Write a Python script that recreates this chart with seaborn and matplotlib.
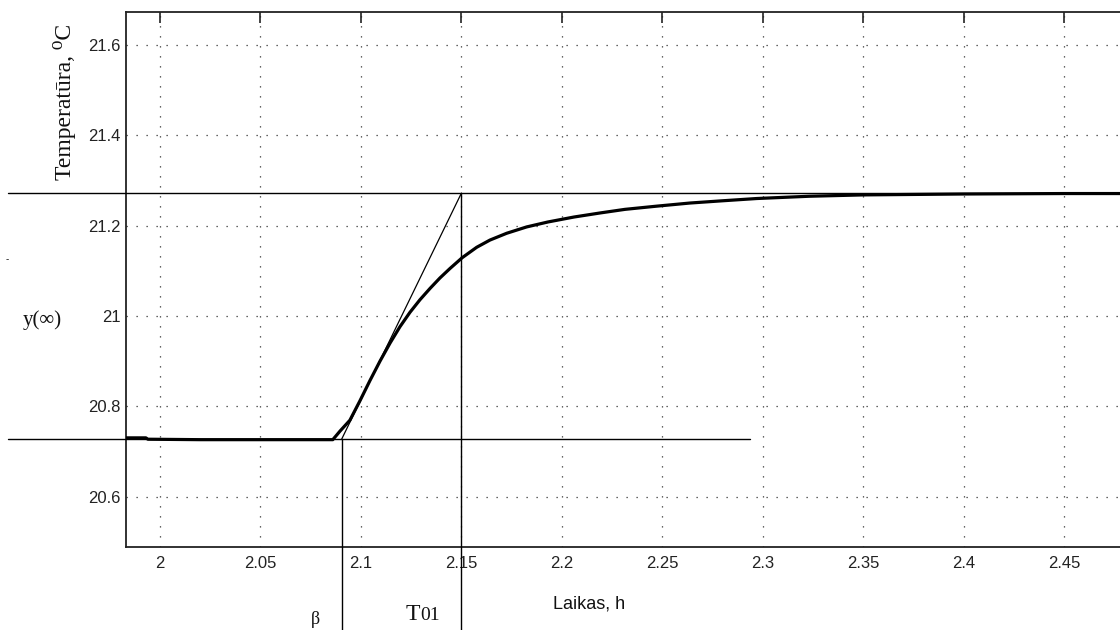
import numpy as np
import pandas as pd
import matplotlib
matplotlib.use("Agg")
import matplotlib.pyplot as plt
import seaborn as sns

# ---- data ----
time_h = [1.983, 1.993, 1.994, 2.020, 2.050, 2.086, 2.0896, 2.0945, 2.0995, 2.1045,
          2.1095, 2.1145, 2.1194, 2.1244, 2.1294, 2.1344, 2.1393, 2.1443, 2.1504,
          2.1576, 2.1642, 2.1725, 2.1824, 2.193, 2.206, 2.219, 2.2314, 2.247, 2.2637,
          2.280, 2.297, 2.323, 2.350, 2.400, 2.450, 2.478]
temp_c = [20.730, 20.730, 20.727, 20.726, 20.726, 20.726, 20.745, 20.769, 20.812, 20.857,
          20.900, 20.940, 20.976, 21.008, 21.036, 21.061, 21.084, 21.105, 21.129,
          21.152, 21.168, 21.183, 21.197, 21.208, 21.219, 21.228, 21.236, 21.243, 21.250,
          21.255, 21.260, 21.265, 21.268, 21.270, 21.271, 21.271]

y_start = 20.727      # initial level
y_end = 21.272        # final level y(inf)
beta_t = 2.0904       # dead time point
t01_t = 2.150         # end of tangent
lower_line_end = 2.2936

x_ticks = [2.0, 2.05, 2.1, 2.15, 2.2, 2.25, 2.3, 2.35, 2.4, 2.45]
x_tick_labels = ["2", "2.05", "2.1", "2.15", "2.2", "2.25", "2.3", "2.35", "2.4", "2.45"]
y_ticks = [20.6, 20.8, 21.0, 21.2, 21.4, 21.6]
y_tick_labels = ["20.6", "20.8", "21", "21.2", "21.4", "21.6"]

xlim = (1.9831, 2.4777)
ylim = (20.489, 21.673)

# ---- styling ----
sns.set_style("white")
plt.rcParams["font.family"] = ["Liberation Sans", "DejaVu Sans"]
SERIF = ["Liberation Serif", "DejaVu Serif"]

fig = plt.figure(figsize=(11.2, 6.3), dpi=100)
ax = fig.add_axes([126 / 1120, 1 - 546.7 / 630, 1 - 126 / 1120, (546.7 - 12) / 630])

df = pd.DataFrame({"t": time_h, "T": temp_c})
sns.lineplot(data=df, x="t", y="T", ax=ax, color="black", lw=2.3,
             estimator=None, sort=False, zorder=4)

ax.set_xlim(*xlim)
ax.set_ylim(*ylim)
ax.set_xticks(x_ticks)
ax.set_xticklabels(x_tick_labels)
ax.set_yticks(y_ticks)
ax.set_yticklabels(y_tick_labels)
ax.set_xlabel("")
ax.set_ylabel("")

ax.grid(True, color="#333333", linestyle=(0, (1, 7)), lw=0.9)
ax.tick_params(axis="both", direction="in", length=8, width=1.2, colors="#222222",
               labelsize=12, labelcolor="#222222", top=True, right=False)
ax.tick_params(axis="x", pad=7)
ax.tick_params(axis="y", pad=4)
for s in ["left", "bottom", "top"]:
    ax.spines[s].set_color("#222222")
    ax.spines[s].set_linewidth(1.3)
ax.spines["right"].set_visible(False)

# ---- annotation construction lines (extend outside axes) ----
x_fig_left = xlim[0] - (126 - 8) / (1120 - 126) * (xlim[1] - xlim[0])
y_fig_bottom = ylim[0] - (630 - 546.7) / (546.7 - 12) * (ylim[1] - ylim[0])
line_kw = dict(color="black", lw=1.0, clip_on=False, zorder=6)
ax.plot([x_fig_left, xlim[1]], [y_end, y_end], **line_kw)
ax.plot([x_fig_left, lower_line_end], [y_start, y_start], **line_kw)
ax.plot([beta_t, beta_t], [y_start, y_fig_bottom], **line_kw)
ax.plot([t01_t, t01_t], [y_end, y_fig_bottom], **line_kw)
ax.plot([beta_t, t01_t], [y_start, y_end], color="black", lw=0.9, zorder=5)

# ---- texts (figure pixel positions) ----
def fx(px):
    return px / 1120

def fy(py):
    return 1 - py / 630

fig.text(fx(64), fy(102), "Temperatūra, ⁰C", rotation=90, ha="center", va="center",
         fontsize=17, family=SERIF, color="#111111")
fig.text(fx(42), fy(320), "y(∞)", ha="center", va="center", fontsize=15,
         family=SERIF, color="#111111")
fig.text(fx(7), fy(259), "-", ha="center", va="center", fontsize=7, color="#111111")
fig.text(fx(315), fy(619), "β", ha="center", va="center", fontsize=13,
         family=SERIF, color="#111111")
fig.text(fx(420), fy(620), "T", ha="right", va="baseline", fontsize=17,
         family=SERIF, color="#111111")
fig.text(fx(420), fy(620), "01", ha="left", va="baseline", fontsize=14,
         family=SERIF, color="#111111")
fig.text(fx(589), fy(604), "Laikas, h", ha="center", va="center", fontsize=13,
         color="#111111")

fig.savefig("out.png", dpi=100)
